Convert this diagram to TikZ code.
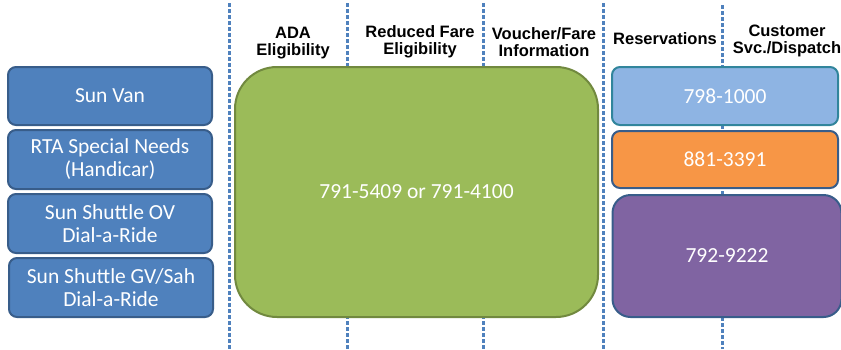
\documentclass[tikz,border=0pt]{standalone}
\usepackage{fontspec}
\setmainfont{Carlito}
\newfontfamily\headfont{Liberation Sans}
\definecolor{sideblue}{HTML}{4F81BD}
\definecolor{sideedge}{HTML}{385D8A}
\definecolor{farefill}{HTML}{9BBB59}
\definecolor{fareedge}{HTML}{71893F}
\definecolor{vanfill}{HTML}{8EB4E3}
\definecolor{vanedge}{HTML}{31859C}
\definecolor{rtafill}{HTML}{F79646}
\definecolor{shuttlefill}{HTML}{8064A2}
\tikzset{
  agency/.style={draw=sideedge, fill=sideblue, line width=2pt, rounded corners=8pt,
    text=white, align=center, font=\fontsize{21.5}{23}\selectfont,
    minimum width=204pt, inner sep=0pt},
  phone/.style={line width=2pt, rounded corners=8pt, text=white,
    font=\fontsize{21.5}{23}\selectfont, inner sep=0pt},
  colhead/.style={align=center, font=\headfont\bfseries\fontsize{16.5}{17}\selectfont, inner sep=0pt},
  divider/.style={draw=sideblue, line width=3pt, dash pattern=on 4pt off 2pt}
}
\begin{document}
\begin{tikzpicture}[x=1pt,y=-1pt]
\useasboundingbox (0,0) rectangle (841,349);

% Column dividers
\draw[divider] (229,3) -- (229,349);
\draw[divider] (347,3) -- (347,349);
\draw[divider] (483,3) -- (483,349);
\draw[divider] (603,3) -- (603,349);
\draw[divider] (722,5) -- (722,349);

% Column headings
\node[colhead] (ada) at (293,43) {ADA\\Eligibility};
\node[colhead] (reduced) at (420,42) {Reduced Fare\\Eligibility};
\node[colhead] (voucher) at (544,42) {Voucher/Fare\\Information};
\node[colhead] (reserv) at (665,39) {Reservations};
\node[colhead] (custsvc) at (787,41) {Customer\\Svc./Dispatch};

% Services on the left
\node[agency, minimum height=58pt] (sunvan) at (110,96) {Sun Van};
\node[agency, minimum height=59pt] (rta) at (110,159.5) {RTA Special Needs\\(Handicar)};
\node[agency, minimum height=59pt] (ov) at (110,223.5) {Sun Shuttle OV\\Dial-a-Ride};
\node[agency, minimum height=59pt] (gv) at (111,287.5) {Sun Shuttle GV/Sah\\Dial-a-Ride};

% Eligibility and fare numbers
\node[phone, draw=fareedge, fill=farefill, rounded corners=42pt,
  minimum width=363pt, minimum height=250pt] (fare) at (416.5,192) {791-5409 or 791-4100};

% Reservations and dispatch numbers
\node[phone, draw=vanedge, fill=vanfill, minimum width=226pt, minimum height=58pt] (vanline) at (725,96) {798-1000};
\node[phone, draw=sideedge, fill=rtafill, minimum width=226pt, minimum height=57pt] (rtaline) at (725,159.5) {881-3391};
\node[phone, draw=sideedge, fill=shuttlefill, rounded corners=18pt,
  minimum width=229pt, minimum height=122pt] (shuttleline) at (727,256) {792-9222};
\end{tikzpicture}
\end{document}
